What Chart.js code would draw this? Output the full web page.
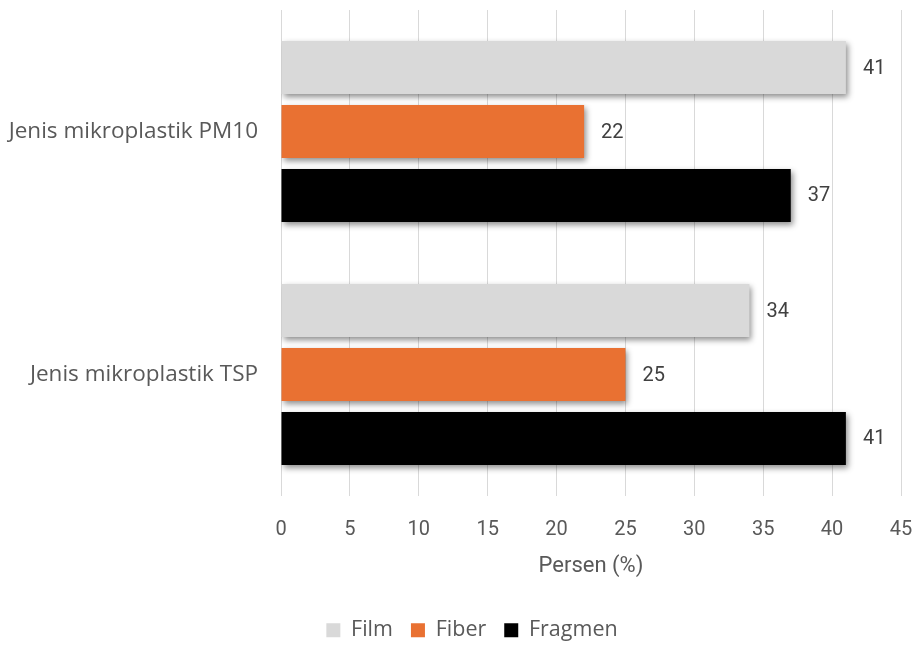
<!DOCTYPE html>
<html>
<head>
<meta charset="utf-8">
<script src="https://cdn.jsdelivr.net/npm/chart.js@4.4.1/dist/chart.umd.min.js"></script>
<style>
  html, body { margin: 0; padding: 0; background: #ffffff; }
  #wrap { width: 917px; height: 647px; }
</style>
</head>
<body>
<div id="wrap"><canvas id="c" width="917" height="647"></canvas></div>
<script>
// Categories and series (percent)
const categories = ['Jenis mikroplastik PM10', 'Jenis mikroplastik TSP'];
const seriesNames = ['Film', 'Fiber', 'Fragmen'];
const filmValues = [41, 34];
const fiberValues = [22, 25];
const fragmenValues = [37, 41];
const xTicks = [0, 5, 10, 15, 20, 25, 30, 35, 40, 45];

const colors = ['#d9d9d9', '#e97132', '#000000'];
const textColor = '#595959';

// Soft drop shadow under each bar
const barShadow = {
  id: 'barShadow',
  beforeDatasetsDraw(chart) {
    const ctx = chart.ctx;
    ctx.save();
    ctx.shadowColor = 'rgba(0,0,0,0.45)';
    ctx.shadowBlur = 6;
    ctx.shadowOffsetX = 2;
    ctx.shadowOffsetY = 3;
  },
  afterDatasetsDraw(chart) {
    chart.ctx.restore();
  }
};

// Value labels at the end of each bar
const valueLabels = {
  id: 'valueLabels',
  afterDatasetsDraw(chart) {
    const ctx = chart.ctx;
    ctx.save();
    ctx.font = '20px Roboto';
    ctx.fillStyle = '#404040';
    ctx.textAlign = 'left';
    ctx.textBaseline = 'middle';
    chart.data.datasets.forEach((ds, i) => {
      const meta = chart.getDatasetMeta(i);
      meta.data.forEach((bar, j) => {
        ctx.fillText(String(ds.data[j]), bar.x + 17, bar.y + 1);
      });
    });
    ctx.restore();
  }
};

const seriesValues = [filmValues, fiberValues, fragmenValues];

new Chart(document.getElementById('c'), {
  type: 'bar',
  data: {
    labels: categories,
    datasets: seriesNames.map((name, i) => ({
      label: name,
      data: seriesValues[i],
      backgroundColor: colors[i],
      borderWidth: 0,
      categoryPercentage: 0.79,
      barPercentage: 0.83
    }))
  },
  options: {
    indexAxis: 'y',
    responsive: false,
    animation: false,
    devicePixelRatio: 1,
    layout: { padding: { top: 10, right: -27, left: 0, bottom: -4 } },
    plugins: {
      tooltip: { enabled: false },
      legend: {
        position: 'bottom',
        labels: {
          boxWidth: 14,
          boxHeight: 14,
          padding: 18,
          color: textColor,
          font: { family: 'Open Sans', size: 21.5 }
        }
      }
    },
    scales: {
      x: {
        min: 0,
        max: 45,
        afterBuildTicks(axis) {
          axis.ticks = xTicks.map(v => ({ value: v }));
        },
        grid: { color: '#d9d9d9', drawTicks: false, lineWidth: 1 },
        border: { display: false },
        ticks: {
          padding: 22,
          color: textColor,
          font: { family: 'Roboto', size: 20 }
        },
        title: {
          display: true,
          text: 'Persen (%)',
          color: textColor,
          font: { family: 'Roboto', size: 22 },
          padding: { top: 12, bottom: 22 }
        },
        afterFit(axis) {
          axis.height = 105.5;
          axis.paddingLeft = 0;
          axis.paddingRight = 16;
        }
      },
      y: {
        grid: { display: false, drawTicks: false },
        border: { display: false },
        ticks: {
          padding: 23,
          color: textColor,
          font: { family: 'Open Sans', size: 22.5 }
        },
        afterFit(axis) {
          axis.width = 281;
          axis.paddingTop = 0;
          axis.paddingBottom = 0;
        }
      }
    }
  },
  plugins: [barShadow, valueLabels]
});
</script>
</body>
</html>
